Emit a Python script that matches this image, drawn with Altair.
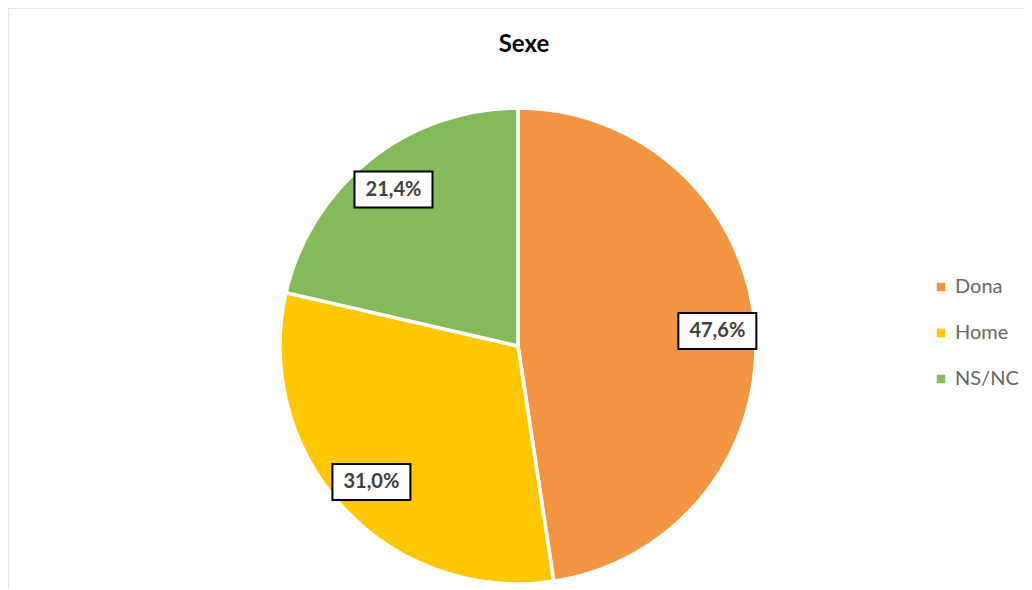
import altair as alt
import pandas as pd
import numpy as np

# ---- data ----
categories = ["Dona", "Home", "NS/NC"]
values = [47.6, 31.0, 21.4]
colors = ["#F39441", "#FFC602", "#83BA5A"]
chart_title = "Sexe"

# ---- layout / style constants ----
PAD = 2
W = 1012
H = 576
CX = 508          # pie centre (px inside view)
CY = 336
R = 238           # pie radius
LABEL_FRAC = 0.84
FONT = "Lato"

df = pd.DataFrame({"cat": categories, "val": values, "order": list(range(len(values)))})
total = float(sum(values))
mid = (np.cumsum(values) - np.array(values) / 2.0) / total * 2 * np.pi
df["lx"] = LABEL_FRAC * np.sin(mid)
df["ly"] = LABEL_FRAC * np.cos(mid)
df["label"] = [f"{v:.1f}".replace(".", ",") + "%" for v in values]

xs = alt.Scale(domain=[-1, 1], range=[CX - R, CX + R])
ys = alt.Scale(domain=[-1, 1], range=[CY + R, CY - R])

base = alt.Chart(df)

pie = base.mark_arc(outerRadius=R, stroke="white", strokeWidth=3.5).encode(
    theta=alt.Theta("val:Q", stack=True),
    order=alt.Order("order:Q"),
    color=alt.Color(
        "cat:N",
        scale=alt.Scale(domain=categories, range=colors),
        sort=categories,
        legend=alt.Legend(
            title=None,
            orient="none",
            legendX=921,
            legendY=267,
            symbolType="square",
            symbolSize=72,
            symbolStrokeWidth=0,
            labelFont=FONT,
            labelFontSize=20,
            labelColor="#666666",
            labelOffset=4,
            rowPadding=26,
            padding=0,
        ),
    ),
    x=alt.value(CX),
    y=alt.value(CY),
)

boxes = base.mark_point(
    shape="M-1,-0.4615H1V0.4615H-1Z",
    size=6084,
    filled=True,
    fill="white",
    stroke="black",
    strokeWidth=2,
    opacity=1,
).encode(
    x=alt.X("lx:Q", scale=xs, axis=None),
    y=alt.Y("ly:Q", scale=ys, axis=None),
)

labels = base.mark_text(
    font=FONT, fontSize=20, fontWeight="bold", color="#404040", baseline="middle", align="center"
).encode(
    x=alt.X("lx:Q", scale=xs, axis=None),
    y=alt.Y("ly:Q", scale=ys, axis=None),
    text="label:N",
)

frame_df = pd.DataFrame({"k": [0]})
left_rule = alt.Chart(frame_df).mark_rule(color="#E4E4E4", strokeWidth=2).encode(
    x=alt.value(-2), y=alt.value(-2), y2=alt.value(H + 2)
)
top_rule = alt.Chart(frame_df).mark_rule(color="#E4E4E4", strokeWidth=2).encode(
    x=alt.value(-2), x2=alt.value(W + 2), y=alt.value(-2)
)

chart = (
    alt.layer(left_rule, top_rule, pie, boxes, labels)
    .properties(
        width=W,
        height=H,
        padding=PAD,
        autosize=alt.AutoSizeParams(type="none"),
        title=alt.Title(
            chart_title,
            font=FONT,
            fontSize=24,
            fontWeight="bold",
            color="#000000",
            anchor="middle",
            baseline="top",
            dx=8,
            dy=54,
        ),
    )
    .configure_view(stroke=None)
)

chart.save("out.html", embed_options={"renderer": "svg", "actions": False})
